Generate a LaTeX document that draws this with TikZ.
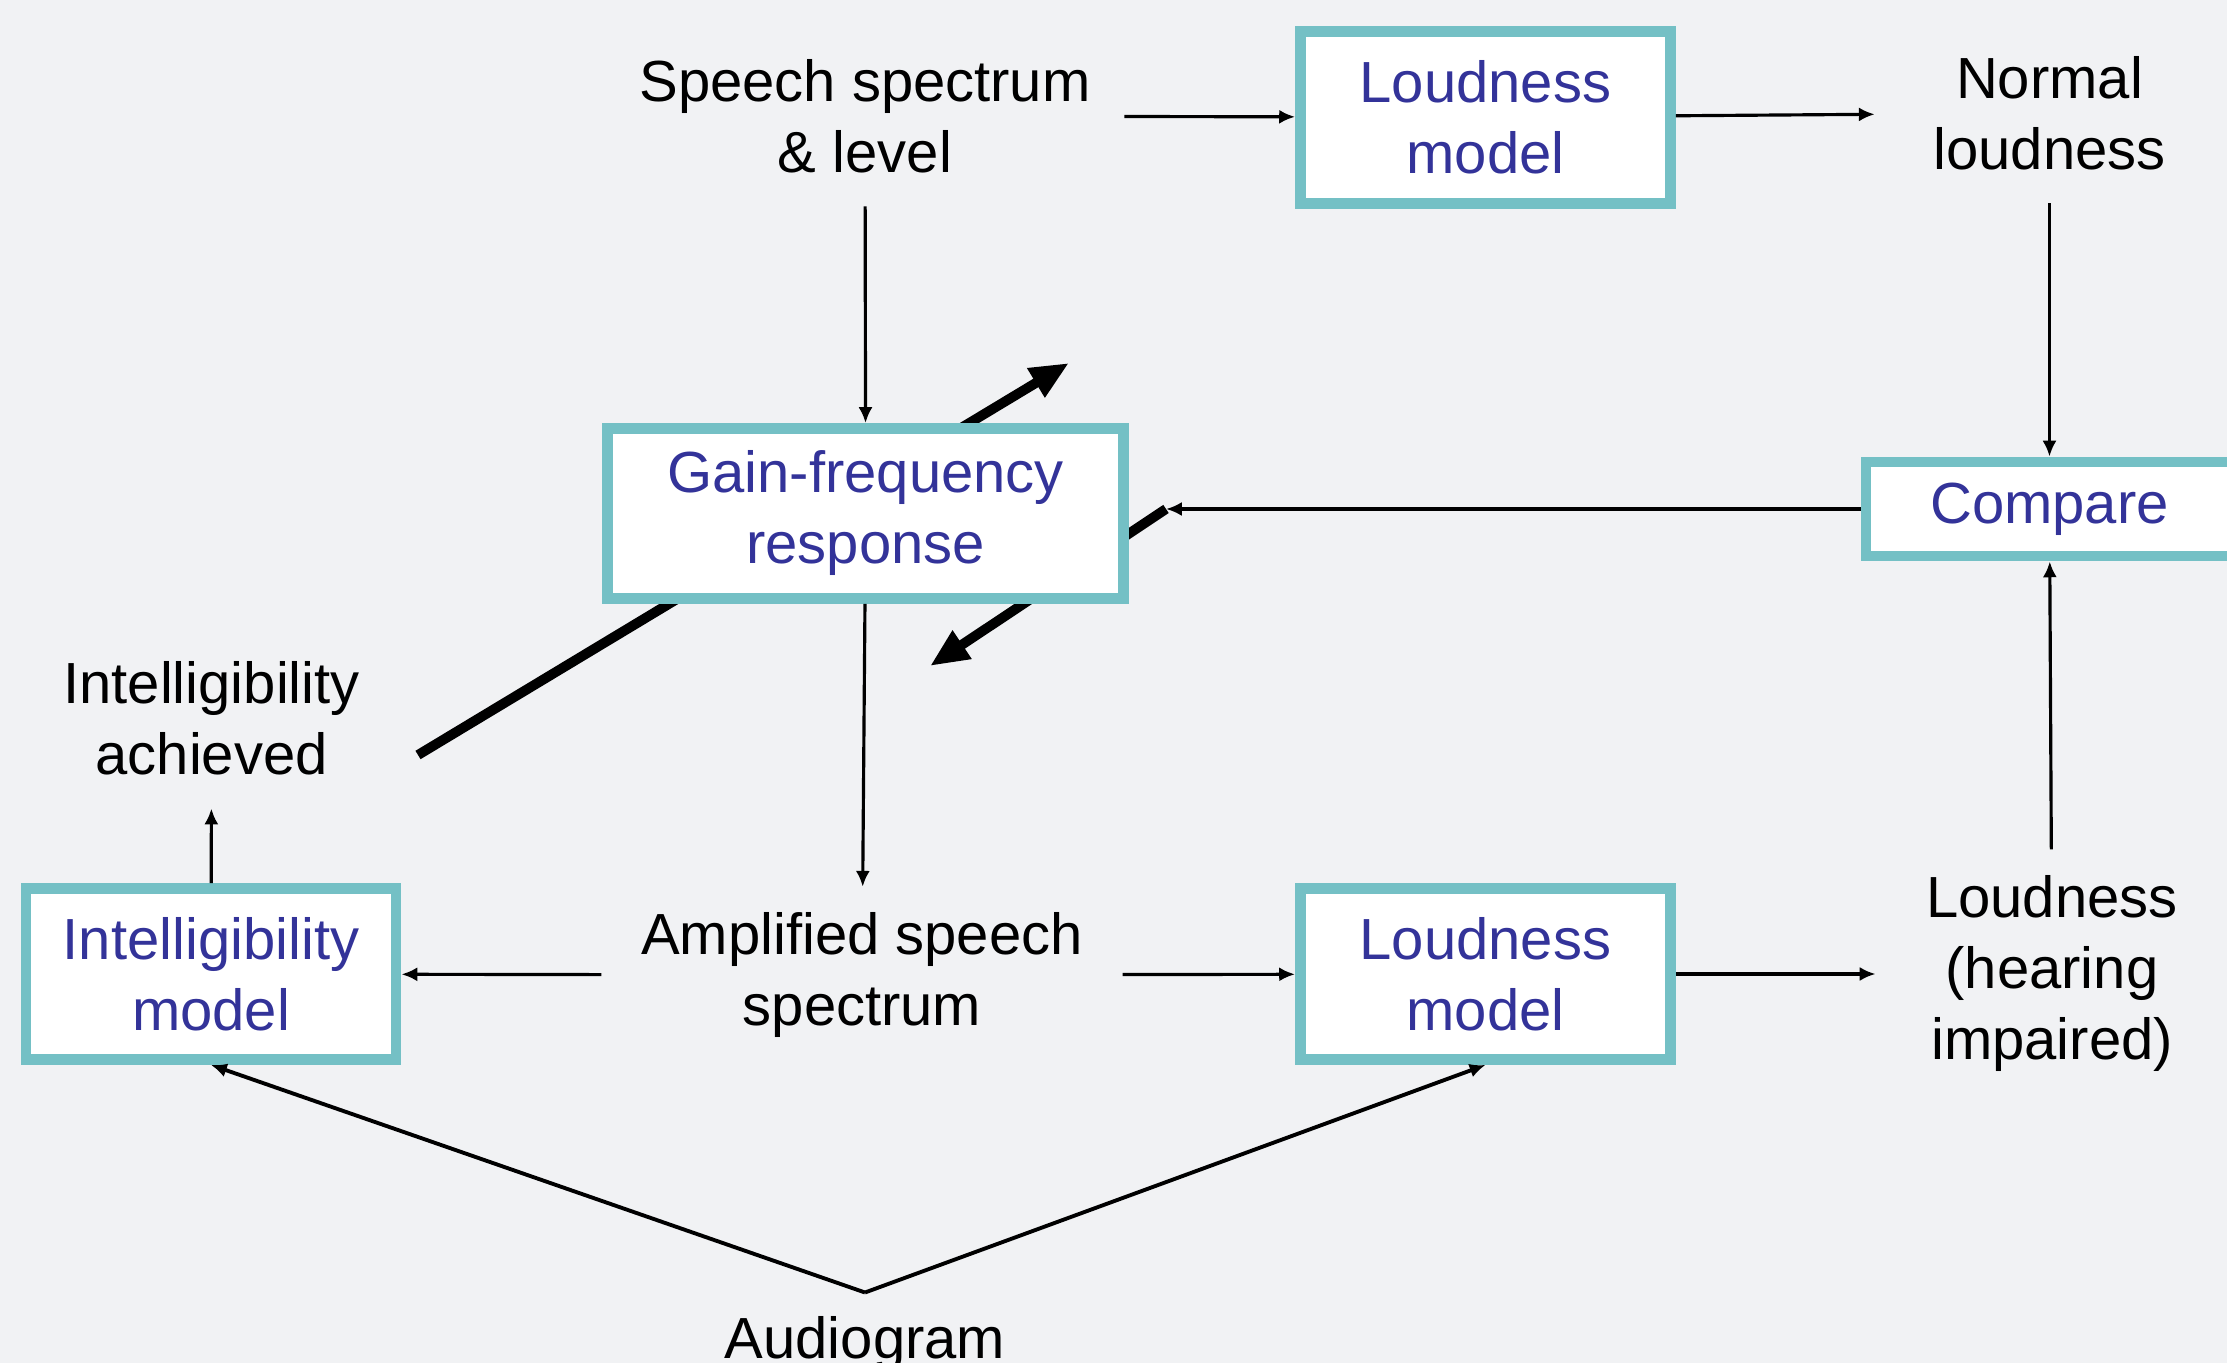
\documentclass[tikz,border=0pt]{standalone}
\usepackage{fontspec}
\setmainfont{Liberation Sans}
\usetikzlibrary{arrows.meta}
\definecolor{slide}{HTML}{F1F2F4}
\definecolor{boxline}{HTML}{74C0C5}
\definecolor{boxtext}{HTML}{333399}

\begin{document}
\begin{tikzpicture}
  [
    every node/.style = {font=\fontsize{16.5}{20.2}\selectfont, align=center},
    words/.style      = {inner sep=0.33cm},
    model/.style      = {draw=boxline, line width=3.1pt, fill=white, text=boxtext,
                         minimum width=3.7cm, minimum height=1.72cm, inner sep=0pt},
    link/.style       = {draw, line width=0.9pt, -{Latex[length=4.5pt, width=4pt]}},
    swing/.style      = {draw, line width=2.8pt, -{Triangle[length=11pt, width=9pt]}}
  ]
  \useasboundingbox (0,0) rectangle (22.27,-13.63);
  \fill[slide] (0,0) rectangle (22.27,-13.63);

  % big arrows, behind the gain box
  \coordinate (up0) at (4.18,-7.55);
  \coordinate (up1) at (10.69,-3.63);
  \coordinate (dn0) at (11.66,-5.09);
  \coordinate (dn1) at (9.30,-6.66);
  \draw[swing] (up0) -- (up1);
  \draw[swing] (dn0) -- (dn1);

  % boxes
  \node[model] (loudA) at (14.855,-1.172) {Loudness\\model};
  \node[model, minimum width=5.16cm, minimum height=1.70cm] (gain) at (8.657,-5.135) {Gain-frequency\\response};
  \node[model, minimum width=3.67cm, minimum height=0.94cm] (cmp) at (20.495,-5.09) {Compare};
  \node[model, minimum height=1.71cm] (intel) at (2.11,-9.74) {Intelligibility\\model};
  \node[model, minimum height=1.71cm] (loudB) at (14.855,-9.74) {Loudness\\model};

  % plain texts
  \node[words] (speech) at (8.65,-1.16) {Speech spectrum\\\& level};
  \node[words, inner xsep=0.58cm] (normal) at (20.495,-1.13) {Normal\\loudness};
  \node[words] (got) at (2.116,-7.18) {Intelligibility\\achieved};
  \node[words, inner xsep=0.39cm, inner ysep=0.25cm] (amp) at (8.62,-9.75) {Amplified speech\\spectrum};
  \node[words, inner xsep=0.5cm, inner ysep=0.26cm] (impair) at (20.52,-9.74) {Loudness\\(hearing\\impaired)};
  \node[anchor=base] (audio) at (8.65,-13.58) {Audiogram};
  \coordinate (apex) at (8.65,-12.925);

  % connectors
  \draw[link] (speech) -- (loudA);
  \draw[link] (loudA) -- (normal);
  \draw[link] (normal) -- (cmp);
  \draw[link] (speech) -- (gain);
  \draw[link] (cmp) -- (dn0);
  \draw[link] (gain) -- (amp);
  \draw[link] (amp) -- (intel);
  \draw[link] (amp) -- (loudB);
  \draw[link] (loudB) -- (impair);
  \draw[link] (impair) -- (cmp);
  \draw[link] (intel) -- (got);
  \draw[link, line width=1.1pt] (apex) -- (intel.south);
  \draw[link, line width=1.1pt] (apex) -- (loudB.south);
\end{tikzpicture}
\end{document}
